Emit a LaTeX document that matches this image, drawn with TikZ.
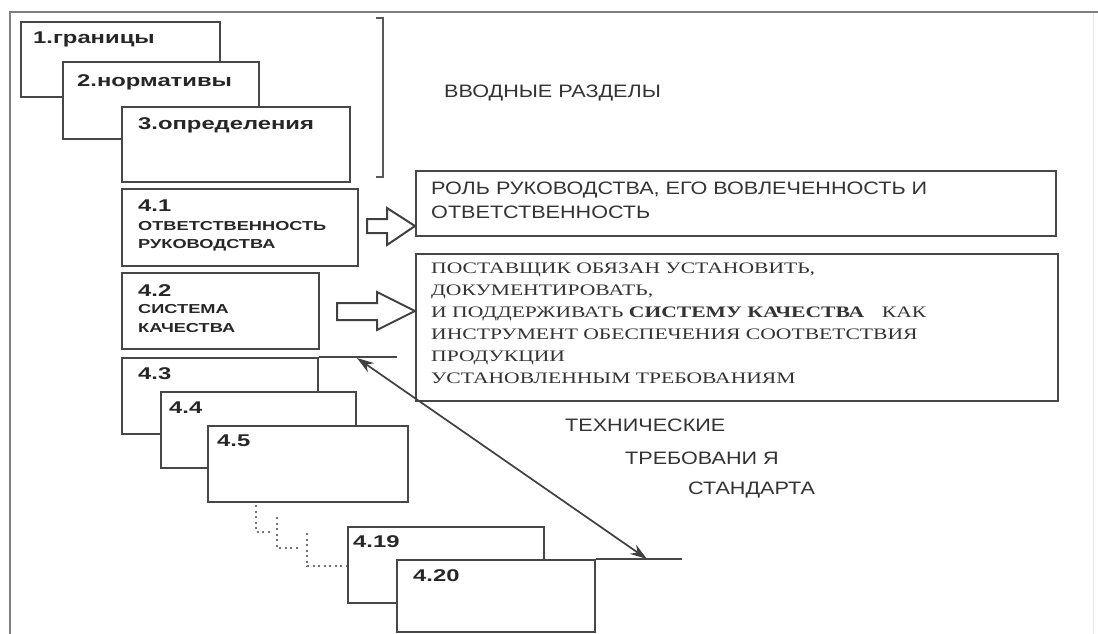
\documentclass[tikz,border=0pt]{standalone}
\usepackage{fontspec}
\usetikzlibrary{arrows.meta}
\newfontfamily\lblfont[FakeStretch=1.4]{Liberation Sans}
\newfontfamily\plfont[FakeStretch=1.2]{Liberation Sans}
\newfontfamily\srfont[FakeStretch=1.35]{Liberation Serif}
\tikzset{
  bx/.style={draw=black!72, line width=2pt, fill=white, rectangle, anchor=north west, inner sep=0pt},
  lbl/.style={anchor=base west, inner sep=0pt, text=black!85, font=\lblfont\bfseries\fontsize{17pt}{20pt}\selectfont},
  lbls/.style={anchor=base west, inner sep=0pt, text=black!85, font=\lblfont\bfseries\fontsize{13pt}{15pt}\selectfont},
  pl/.style={anchor=base west, inner sep=0pt, text=black!80, font=\plfont\fontsize{18pt}{22pt}\selectfont},
  sr/.style={anchor=base west, inner sep=0pt, text=black!80, font=\srfont\fontsize{16pt}{22pt}\selectfont},
  ln/.style={draw=black!72, line width=1.7pt},
  harrow/.style={draw=black!75, line width=2pt, fill=white, line join=miter},
  dots/.style={draw=black!55, line width=1.8pt, dash pattern=on 2pt off 3.5pt},
}
\newcommand\bxnode[5]{\node[bx, minimum width=#4pt, minimum height=#5pt] (#1) at (#2,#3) {};}
\begin{document}
\begin{tikzpicture}[x=1pt,y=-1pt]
\useasboundingbox (0,0) rectangle (1098,634);
\fill[white] (0,0) rectangle (1098,634);
% outer frame
\coordinate (fr1) at (1098,12);
\coordinate (fr2) at (10,12);
\coordinate (fr3) at (10,634);
\draw[draw=black!50, line width=2.8pt] (fr1) -- (fr2) -- (fr3);
\draw[draw=black!10, line width=1pt] (1093,14) -- (1093,634);
% introductory boxes
\bxnode{b1}{20}{21}{199}{75}
\bxnode{b2}{62}{61}{196}{77}
\bxnode{b3}{121}{106}{228}{75}
\node[lbl] (t1) at (33,44) {1.границы};
\node[lbl] (t2) at (77,87) {2.нормативы};
\node[lbl] (t3) at (138,129) {3.определения};
% bracket
\draw[draw=black!65, line width=1.8pt] (376,18) -- (383,18) -- (383,177) -- (376,177);
\node[pl] (intro) at (444,98) {ВВОДНЫЕ РАЗДЕЛЫ};
% 4.1 and 4.2
\bxnode{b41}{121}{188}{236}{77}
\bxnode{b42}{121}{272}{197}{76}
\node[lbl] (t41) at (138,211) {4.1};
\node[lbls] (t41a) at (138,230) {ОТВЕТСТВЕННОСТЬ};
\node[lbls] (t41b) at (138,248) {РУКОВОДСТВА};
\node[lbl] (t42) at (138,296) {4.2};
\node[lbls] (t42a) at (138,313) {СИСТЕМА};
\node[lbls] (t42b) at (138,332) {КАЧЕСТВА};
% description boxes
\bxnode{rol}{415}{170}{640}{65}
\bxnode{post}{415}{253}{642}{147}
\node[pl] (r1) at (431,194) {РОЛЬ РУКОВОДСТВА, ЕГО ВОВЛЕЧЕННОСТЬ И};
\node[pl] (r2) at (431,218) {ОТВЕТСТВЕННОСТЬ};
\node[sr] (p1) at (431,273) {ПОСТАВЩИК ОБЯЗАН УСТАНОВИТЬ,};
\node[sr] (p2) at (431,295) {ДОКУМЕНТИРОВАТЬ,};
\node[sr] (p3) at (431,317) {И ПОДДЕРЖИВАТЬ \textbf{СИСТЕМУ КАЧЕСТВА}\hspace{1.1em}КАК};
\node[sr] (p4) at (431,339) {ИНСТРУМЕНТ ОБЕСПЕЧЕНИЯ СООТВЕТСТВИЯ};
\node[sr] (p5) at (431,361) {ПРОДУКЦИИ};
\node[sr] (p6) at (431,383) {УСТАНОВЛЕННЫМ ТРЕБОВАНИЯМ};
% hollow arrows
\draw[harrow] (367,219) -- (387,219) -- (387,208) -- (rol.west |- 0,226) -- (387,245) -- (387,233) -- (367,233) -- cycle;
\draw[harrow] (337,303) -- (377,303) -- (377,292) -- (post.west |- 0,311) -- (377,330) -- (377,320) -- (337,320) -- cycle;
% technical boxes
\bxnode{b43}{121}{357}{196}{76}
\bxnode{b44}{160}{391}{195}{76}
\bxnode{b45}{207}{425}{200}{76}
\node[lbl] (t43) at (138,379) {4.3};
\node[lbl] (t44) at (169,413) {4.4};
\node[lbl] (t45) at (217,446) {4.5};
\bxnode{b419}{347}{526}{196}{76}
\bxnode{b420}{396}{559}{198}{72}
\node[lbl] (t419) at (353,547) {4.19};
\node[lbl] (t420) at (413,581) {4.20};
% extension lines and double arrow
\coordinate (ext1) at (397,357);
\coordinate (ext2) at (682,559);
\draw[ln] (b43.north east) -- (ext1);
\draw[ln] (b420.north east) -- (ext2);
\coordinate (da1) at (357,358);
\coordinate (da2) at (647,559);
\draw[draw=black!75, line width=1.7pt, {Stealth[length=17pt,width=11pt]}-{Stealth[length=17pt,width=11pt]}] (da1) -- (da2);
% dotted steps
\draw[dots] (256,505) -- (256,532) -- (272,532);
\draw[dots] (277,517) -- (277,548) -- (300,548);
\draw[dots] (307,533) -- (307,566) -- (b419.west |- 0,566);
% technical requirements label
\node[pl] (tx1) at (565,431) {ТЕХНИЧЕСКИЕ};
\node[pl] (tx2) at (625,464) {ТРЕБОВАНИ Я};
\node[pl] (tx3) at (688,494) {СТАНДАРТА};
\end{tikzpicture}
\end{document}
